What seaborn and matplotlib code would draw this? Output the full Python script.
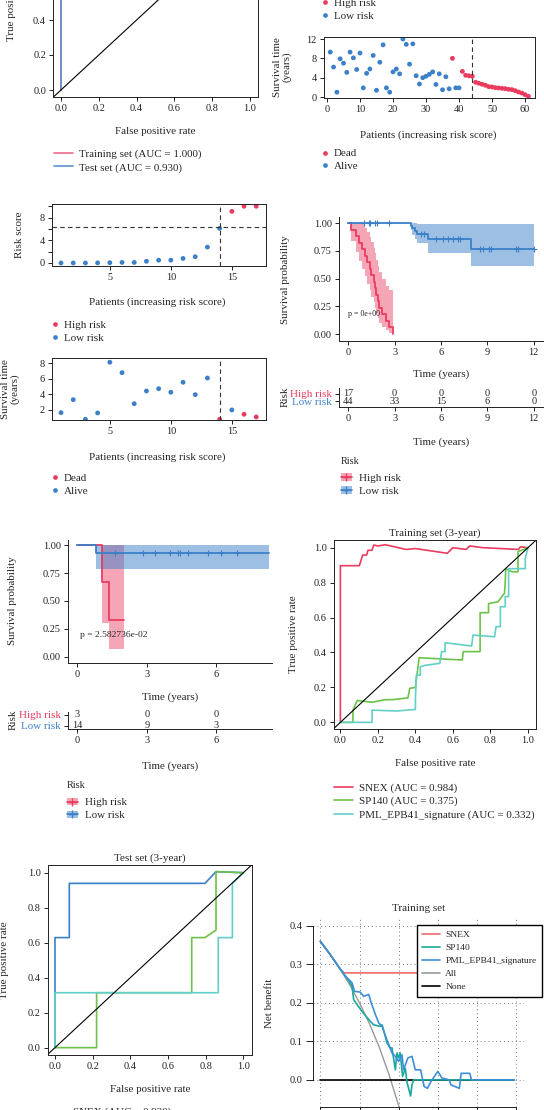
import numpy as np
import pandas as pd
import matplotlib
matplotlib.use("Agg")
import matplotlib.pyplot as plt
import seaborn as sns
from matplotlib.lines import Line2D
from matplotlib.patches import Patch

# ---------------- data ----------------
# training set: survival time of each patient, ordered by risk score
train_time = [9.3, 6.2, 1.0, 7.9, 7.0, 5.1, 9.3, 8.1, 5.7, 9.1,
              1.9, 4.9, 5.8, 8.6, 1.4, 7.2, 10.8, 1.9, 1.0, 5.2,
              5.8, 4.8, 12.0, 10.9, 6.8, 11.0, 4.4, 2.7, 4.0, 4.3,
              4.7, 5.2, 2.6, 4.8, 1.5, 4.2, 1.7, 8.0, 1.9, 1.9,
              5.3, 4.5, 4.4, 4.3, 3.06, 2.85, 2.64, 2.43, 2.15, 2.08,
              1.94, 1.88, 1.8, 1.74, 1.6, 1.53, 1.32, 1.04, 0.83, 0.49, 0.14]
train_dead = [38] + list(range(41, 62))
train_cut = 44

# test set
test_score = [0.0, 0.0, 0.0, 0.02, 0.05, 0.1, 0.1, 0.3, 0.5, 0.5,
              0.8, 1.1, 2.8, 6.1, 9.1, 10.0, 10.0]
test_time = [1.62, 3.3, 0.76, 1.58, 8.14, 6.79, 2.78, 4.42, 4.72, 4.26,
             5.55, 3.95, 6.1, 0.76, 1.97, 1.41, 1.06]
test_dead = [14, 16, 17]
test_cut = 14
test_score_cut = 6.35

# KM, training set
km_tr_high_t = [0, 0.17, 0.52, 0.72, 0.9, 1.07, 1.22, 1.39, 1.5, 1.65, 1.72,
                1.8, 1.95, 2.0, 2.2, 2.41, 2.63, 2.9]
km_tr_high_s = [1, 0.941, 0.882, 0.824, 0.765, 0.706, 0.647, 0.588, 0.529,
                0.471, 0.412, 0.353, 0.294, 0.235, 0.176, 0.118, 0.059, 0.0]
km_tr_high_lo = [1, 0.836, 0.741, 0.661, 0.587, 0.519, 0.455, 0.395, 0.338,
                 0.284, 0.233, 0.185, 0.141, 0.100, 0.063, 0.032, 0.009, 0.0]
km_tr_high_hi = [1, 1, 1, 1, 0.996, 0.959, 0.919, 0.875, 0.829,
                 0.779, 0.727, 0.671, 0.614, 0.555, 0.493, 0.433, 0.394, 0.394]
km_tr_low_t = [0, 4.05, 4.15, 4.3, 4.45, 5.15, 7.95, 12.0]
km_tr_low_s = [1, 0.977, 0.953, 0.929, 0.904, 0.853, 0.768, 0.768]
km_tr_low_lo = [1, 0.935, 0.89, 0.855, 0.82, 0.73, 0.61, 0.61]
km_tr_low_hi = [1, 1, 1, 1, 0.995, 0.994, 0.994, 0.994]
km_tr_cens_t = [1.0, 1.33, 1.4, 1.76, 1.87, 2.63, 4.7, 4.9, 5.67, 6.1, 6.43,
                6.76, 7.13, 7.24, 8.5, 8.7, 9.1, 9.26, 10.85, 11.0, 12.0]
km_tr_cens_s = [1, 1, 1, 1, 1, 1, 0.904, 0.904, 0.853, 0.853, 0.853,
                0.853, 0.853, 0.853, 0.768, 0.768, 0.768, 0.768, 0.768, 0.768, 0.768]
km_tr_times = [0, 3, 6, 9, 12]
km_tr_high_n = [17, 0, 0, 0, 0]
km_tr_low_n = [44, 33, 15, 6, 0]

# KM, test set
km_te_high_t = [0, 1.05, 1.38, 2.0]
km_te_high_s = [1, 0.667, 0.333, 0.333]
km_te_high_lo = [1, 0.30, 0.066, 0.066]
km_te_high_hi = [1, 1, 1, 1]
km_te_low_t = [0, 0.8, 8.25]
km_te_low_s = [1, 0.929, 0.929]
km_te_low_lo = [1, 0.787, 0.787]
km_te_low_hi = [1, 1, 1]
km_te_cens_t = [1.63, 2.82, 3.35, 4.0, 4.33, 4.43, 4.78, 5.62, 6.18, 6.91]
km_te_times = [0, 3, 6]
km_te_high_n = [3, 0, 0]
km_te_low_n = [14, 9, 3]

# ROC, training set (3-year)
roc_tr_snex_x = [0, 0, 0.101, 0.119, 0.14, 0.147, 0.168, 0.178, 0.2, 0.24, 0.35,
                 0.4, 0.57, 0.6, 0.67, 0.69, 0.76, 0.95, 0.96, 1.0]
roc_tr_snex_y = [0, 0.897, 0.897, 0.958, 0.958, 0.985, 0.985, 1.015, 1.01, 1.017,
                 0.99, 0.995, 0.968, 1.0, 0.99, 1.01, 1.0, 0.99, 1.005, 1.0]
roc_tr_sp_x = [0, 0.067, 0.067, 0.09, 0.17, 0.24, 0.28, 0.36, 0.37, 0.4, 0.42,
               0.65, 0.655, 0.745, 0.745, 0.79, 0.79, 0.84, 0.875, 0.879, 0.882,
               0.915, 0.947, 0.947, 1.0]
roc_tr_sp_y = [0, 0, 0.07, 0.125, 0.115, 0.13, 0.13, 0.14, 0.195, 0.2, 0.37,
               0.357, 0.405, 0.405, 0.628, 0.628, 0.68, 0.69, 0.739, 0.805, 0.88,
               0.862, 0.862, 0.977, 1.0]
roc_tr_pml_x = [0, 0.169, 0.169, 0.30, 0.4, 0.4, 0.405, 0.426, 0.426, 0.45, 0.53,
                0.54, 0.558, 0.558, 0.70, 0.707, 0.822, 0.83, 0.853, 0.853, 0.879,
                0.879, 0.897, 0.897, 0.986, 0.986, 1.0]
roc_tr_pml_y = [0, 0, 0.07, 0.065, 0.074, 0.134, 0.27, 0.27, 0.318, 0.326, 0.338,
                0.405, 0.405, 0.456, 0.437, 0.5, 0.49, 0.548, 0.548, 0.662, 0.662,
                0.72, 0.72, 0.88, 0.88, 0.94, 1.0]

# ROC, test set (3-year)
roc_te_snex_x = [0, 0, 0.076, 0.076, 0.796, 0.855, 1.0]
roc_te_snex_y = [0, 0.629, 0.629, 0.939, 0.939, 1.006, 1.0]
roc_te_sp_x = [0, 0.221, 0.221, 0.726, 0.726, 0.796, 0.855, 0.855, 1.0]
roc_te_sp_y = [0, 0, 0.314, 0.314, 0.629, 0.629, 0.672, 1.006, 1.0]
roc_te_pml_x = [0, 0, 0.867, 0.867, 0.942, 0.942, 1.0]
roc_te_pml_y = [0, 0.314, 0.314, 0.629, 0.629, 0.939, 1.0]

# overall ROC (top left, mostly cropped)
roc_all_tr_x = [0, 0, 1.0]
roc_all_tr_y = [0, 1.0, 1.0]
roc_all_te_x = [0, 0, 0.14, 0.14, 1.0]
roc_all_te_y = [0, 0.71, 0.71, 1.0, 1.0]

# decision curve, training set
dca_all_x = [0, 0.05, 0.1, 0.15, 0.2, 0.25, 0.3, 0.35, 0.4, 0.41]
dca_all_y = [0.36, 0.326, 0.289, 0.247, 0.2, 0.147, 0.086, 0.015, -0.067, -0.085]
dca_snex_x = [0, 0.05, 0.1, 0.12, 0.75]
dca_snex_y = [0.36, 0.326, 0.289, 0.278, 0.278]
dca_sp_x = [0, 0.05, 0.1, 0.14, 0.162, 0.17, 0.187, 0.213, 0.247, 0.272, 0.306,
            0.315, 0.323, 0.34, 0.357, 0.366, 0.383, 0.391, 0.4, 0.408, 0.42,
            0.434, 0.442, 0.461, 0.468, 0.476, 0.99]
dca_sp_y = [0.36, 0.326, 0.289, 0.262, 0.243, 0.209, 0.196, 0.178, 0.157, 0.143,
            0.139, 0.143, 0.13, 0.096, 0.083, 0.083, 0.026, 0.07, 0.057, 0.07,
            0.009, 0.03, -0.005, -0.042, -0.013, 0.0, 0.0]
dca_pml_x = [0, 0.05, 0.1, 0.13, 0.145, 0.162, 0.175, 0.204, 0.221, 0.247, 0.26,
             0.281, 0.298, 0.315, 0.34, 0.366, 0.383, 0.4, 0.417, 0.425, 0.447,
             0.468, 0.485, 0.512, 0.53, 0.547, 0.565, 0.6, 0.621, 0.658, 0.667,
             0.71, 0.719, 0.763, 0.772, 0.99]
dca_pml_y = [0.36, 0.326, 0.289, 0.268, 0.261, 0.252, 0.23, 0.228, 0.217, 0.222,
             0.2, 0.17, 0.148, 0.139, 0.104, 0.07, 0.061, 0.048, 0.065, 0.026,
             0.057, 0.061, 0.026, 0.026, -0.017, -0.022, -0.004, 0.022, 0.005, 0.0,
             -0.013, -0.022, 0.017, 0.017, 0.0, 0.0]
dca_none_x = [0, 0.99]
dca_none_y = [0, 0]

# ---------------- style ----------------
RED = "#ea3b5f"
BLUE = "#3b80c8"
GREEN = "#6cc24a"
CYAN = "#62cfc8"
FS = 7.9   # axis labels / legends
TS = 7.4   # tick labels
sns.set_style("ticks")
plt.rcParams["font.family"] = ["Liberation Serif", "DejaVu Serif"]
plt.rcParams.update({
    "font.size": FS,
    "axes.linewidth": 0.7,
    "axes.edgecolor": "#222222",
    "xtick.major.size": 3,
    "ytick.major.size": 3,
    "xtick.major.width": 0.7,
    "ytick.major.width": 0.7,
    "xtick.major.pad": 2.3,
    "ytick.major.pad": 2.3,
    "xtick.labelsize": TS,
    "ytick.labelsize": TS,
    "xtick.color": "#222222",
    "ytick.color": "#222222",
})

W, H = 544, 1110
fig = plt.figure(figsize=(W / 100, H / 100), dpi=100)


def box(l, t, r, b):
    return fig.add_axes([l / W, 1 - b / H, (r - l) / W, (b - t) / H])


def txt(x, y, s, **kw):
    kw.setdefault("ha", "center")
    kw.setdefault("va", "center")
    kw.setdefault("fontsize", FS)
    fig.text(x / W, 1 - y / H, s, **kw)


def leg(handles, labels, x, y1, y2, fs=FS, hl=1.7, htp=0.6, **kw):
    fig.legend(handles, labels, loc="center left",
               bbox_to_anchor=(x / W, 1 - (y1 + y2) / 2 / H), frameon=False,
               fontsize=fs, handlelength=hl, handletextpad=htp, borderpad=0,
               borderaxespad=0, labelspacing=0.3, **kw)


def dots(c):
    return Line2D([], [], ls="none", marker="o", ms=3.4, color=c, mew=0)


def line(x, y, c, ax, lw=1.2):
    sns.lineplot(x=x, y=y, sort=False, estimator=None, color=c, lw=lw, ax=ax)


def km(ax, t, s, lo, hi, c, alpha):
    ax.fill_between(t, lo, hi, step="post", color=c, alpha=alpha, lw=0)
    ax.step(t, s, where="post", color=c, lw=1.3)


# ---------------- overall ROC (top left) ----------------
ax = box(53.4, -92, 257.6, 97)
line(roc_all_tr_x, roc_all_tr_y, "#f06a8a", ax)
line(roc_all_te_x, roc_all_te_y, "#5b93d3", ax)
ax.axline((0, 0), slope=1, color="black", lw=0.8)
ax.set_xlim(-0.04, 1.04)
ax.set_ylim(-0.04, 1.04)
ax.set_xticks(np.arange(0, 1.01, 0.2))
ax.xaxis.set_major_formatter("{x:.1f}")
ax.set_yticks(np.arange(0, 1.01, 0.2))
# only the lower tick labels fall inside the cropped picture
ax.set_yticklabels(["0.0", "0.2", "0.4", "", "", ""])
txt(12, 2.5, "True positive rate", rotation=90)
txt(155, 131, "False positive rate")
leg([Line2D([], [], color="#f06a8a", lw=1.2), Line2D([], [], color="#5b93d3", lw=1.2)],
    ["Training set (AUC = 1.000)", "Test set (AUC = 0.930)"], 54, 154, 168)

# ---------------- training survival time (top right) ----------------
ax = box(324, 37, 535, 98)
df = pd.DataFrame({"patient": np.arange(1, len(train_time) + 1), "time": train_time})
df["status"] = np.where(df["patient"].isin(train_dead), "Dead", "Alive")
sns.scatterplot(data=df, x="patient", y="time", hue="status",
                palette={"Dead": RED, "Alive": BLUE}, s=12, linewidth=0,
                legend=False, ax=ax)
ax.axvline(train_cut, color="#333333", ls=(0, (4, 3)), lw=0.8)
ax.set_xlim(-0.9, 63.0)
ax.set_ylim(-0.2, 12.42)
ax.set_xticks(range(0, 61, 10))
ax.set_yticks([0, 4, 8, 12])
ax.set_xlabel("")
ax.set_ylabel("")
txt(282, 67, "Survival time\n(years)", rotation=90, linespacing=1.05)
txt(428, 135, "Patients (increasing risk score)")
leg([dots(RED), dots(BLUE)], ["High risk", "Low risk"], 321, 3, 16, hl=0.8, htp=0.4)
leg([dots(RED), dots(BLUE)], ["Dead", "Alive"], 321, 153, 167, hl=0.8, htp=0.4)

# ---------------- test risk score ----------------
ax = box(52, 204, 266, 266)
df = pd.DataFrame({"patient": np.arange(1, len(test_score) + 1), "score": test_score})
df["risk"] = np.where(df["patient"] > test_cut, "High", "Low")
sns.scatterplot(data=df, x="patient", y="score", hue="risk",
                palette={"High": RED, "Low": BLUE}, s=12, linewidth=0,
                legend=False, ax=ax)
ax.axvline(test_cut, color="#333333", ls=(0, (4, 3)), lw=0.8)
ax.axhline(test_score_cut, color="#333333", ls=(0, (4, 3)), lw=0.8)
ax.set_xlim(0.26, 17.8)
ax.set_ylim(-0.53, 10.4)
ax.set_xticks([5, 10, 15])
ax.set_yticks([0, 2, 4, 6, 8, 10])
ax.set_yticklabels(["0", "", "4", "", "8", ""])
ax.set_xlabel("")
ax.set_ylabel("")
txt(19, 235, "Risk score", rotation=90)
txt(157, 302, "Patients (increasing risk score)")
leg([dots(RED), dots(BLUE)], ["High risk", "Low risk"], 51, 324, 339, hl=0.8, htp=0.4)

# ---------------- test survival time ----------------
ax = box(52, 358, 266, 420)
df = pd.DataFrame({"patient": np.arange(1, len(test_time) + 1), "time": test_time})
df["status"] = np.where(df["patient"].isin(test_dead), "Dead", "Alive")
sns.scatterplot(data=df, x="patient", y="time", hue="status",
                palette={"Dead": RED, "Alive": BLUE}, s=12, linewidth=0,
                legend=False, ax=ax)
ax.axvline(test_cut, color="#333333", ls=(0, (4, 3)), lw=0.8)
ax.set_xlim(0.26, 17.8)
ax.set_ylim(0.67, 8.69)
ax.set_xticks([5, 10, 15])
ax.set_yticks([2, 4, 6, 8])
ax.set_xlabel("")
ax.set_ylabel("")
txt(10, 389, "Survival time\n(years)", rotation=90, linespacing=1.05)
txt(157, 457, "Patients (increasing risk score)")
leg([dots(RED), dots(BLUE)], ["Dead", "Alive"], 51, 477, 492, hl=0.8, htp=0.4)


# ---------------- KM helpers ----------------
def km_axes(ax, xmax, ticks):
    sns.despine(ax=ax)
    ax.set_xlim(-0.05 * xmax, 1.05 * xmax)
    ax.set_xticks(ticks)


def risk_table(ax, times, high_n, low_n, xmax):
    sns.despine(ax=ax)
    for t, h, l in zip(times, high_n, low_n):
        ax.text(t, 1, str(h), ha="center", va="center", fontsize=TS)
        ax.text(t, 0, str(l), ha="center", va="center", fontsize=TS)
    ax.set_xlim(-0.05 * xmax, 1.05 * xmax)
    ax.set_xticks(times)
    ax.set_yticks([1, 0])
    ax.set_yticklabels(["High risk", "Low risk"])
    for lab, c in zip(ax.get_yticklabels(), [RED, BLUE]):
        lab.set_color(c)
        lab.set_fontsize(FS)


def km_legend(x, y_title, y1, y2):
    hs = [(Patch(fc=RED, alpha=0.45, lw=0), Line2D([], [], color=RED, marker="+", ms=6, lw=1.2)),
          (Patch(fc=BLUE, alpha=0.5, lw=0), Line2D([], [], color=BLUE, marker="+", ms=6, lw=1.2))]
    txt(x, y_title, "Risk", ha="left", fontsize=TS)
    leg(hs, ["High risk", "Low risk"], x, y1, y2, hl=1.0, htp=0.6)


# ---------------- KM training ----------------
ax = box(339, 217.5, 543, 341)
km(ax, km_tr_high_t, km_tr_high_s, km_tr_high_lo, km_tr_high_hi, RED, 0.45)
km(ax, km_tr_low_t, km_tr_low_s, km_tr_low_lo, km_tr_low_hi, BLUE, 0.5)
sns.scatterplot(x=km_tr_cens_t, y=km_tr_cens_s, marker="+", s=14, color=BLUE,
                linewidth=0.8, ax=ax)
km_axes(ax, 12, km_tr_times)
ax.set_ylim(-0.063, 1.05)
ax.set_yticks([0, 0.25, 0.5, 0.75, 1.0])
ax.yaxis.set_major_formatter("{x:.2f}")
ax.text(0.0, 0.18, "p = 0e+00", fontsize=5.8, va="center")
txt(285, 280, "Survival probability", rotation=90)
txt(441, 374, "Time (years)")

ax = box(339, 388, 543, 407)
risk_table(ax, km_tr_times, km_tr_high_n, km_tr_low_n, 12)
ax.set_ylim(-0.857, 1.857)
txt(285, 397, "Risk", rotation=90)
txt(441, 442, "Time (years)")
km_legend(341, 462, 477, 492)

# ---------------- KM test ----------------
ax = box(68, 539.7, 272, 663)
km(ax, km_te_high_t, km_te_high_s, km_te_high_lo, km_te_high_hi, RED, 0.45)
km(ax, km_te_low_t, km_te_low_s, km_te_low_lo, km_te_low_hi, BLUE, 0.5)
sns.scatterplot(x=km_te_cens_t, y=[km_te_low_s[-1]] * len(km_te_cens_t), marker="+",
                s=14, color=BLUE, linewidth=0.8, ax=ax)
km_axes(ax, 8, km_te_times)
ax.set_ylim(-0.057, 1.05)
ax.set_yticks([0, 0.25, 0.5, 0.75, 1.0])
ax.yaxis.set_major_formatter("{x:.2f}")
ax.text(0.12, 0.195, "p = 2.582736e-02", fontsize=6.8, va="center")
txt(13, 601, "Survival probability", rotation=90)
txt(170, 697, "Time (years)")

ax = box(68, 712, 272, 729)
risk_table(ax, km_te_times, km_te_high_n, km_te_low_n, 8)
ax.set_ylim(-0.31, 1.28)
txt(13, 720, "Risk", rotation=90)
txt(170, 766, "Time (years)")
km_legend(67, 786, 802, 816)


# ---------------- ROC 3-year ----------------
def roc_axes(ax, title, xl, yl):
    ax.axline((0, 0), slope=1, color="black", lw=0.8)
    ax.set_xlim(*xl)
    ax.set_ylim(*yl)
    ax.set_xticks(np.arange(0, 1.01, 0.2))
    ax.set_yticks(np.arange(0, 1.01, 0.2))
    ax.xaxis.set_major_formatter("{x:.1f}")
    ax.yaxis.set_major_formatter("{x:.1f}")
    ax.set_title(title, fontsize=8.0, pad=3)


roc_labels = ["SNEX (AUC = 0.984)", "SP140 (AUC = 0.375)", "PML_EPB41_signature (AUC = 0.332)"]
ax = box(334, 540, 536, 729)
line(roc_tr_snex_x, roc_tr_snex_y, RED, ax)
line(roc_tr_sp_x, roc_tr_sp_y, GREEN, ax)
line(roc_tr_pml_x, roc_tr_pml_y, CYAN, ax)
roc_axes(ax, "Training set (3-year)", (-0.034, 1.043), (-0.038, 1.044))
txt(293, 634, "True positive rate", rotation=90)
txt(435, 764, "False positive rate")
leg([Line2D([], [], color=c, lw=1.2) for c in [RED, GREEN, CYAN]], roc_labels,
    334, 787, 816)

ax = box(48, 865, 252, 1055)
line(roc_te_snex_x, roc_te_snex_y, BLUE, ax)
line(roc_te_sp_x, roc_te_sp_y, GREEN, ax)
line(roc_te_pml_x, roc_te_pml_y, CYAN, ax)
roc_axes(ax, "Test set (3-year)", (-0.037, 1.046), (-0.042, 1.044))
txt(5, 960, "True positive rate", rotation=90)
txt(150, 1090, "False positive rate")
# legend of this panel is cut by the bottom edge; only its first row shows
leg([Line2D([], [], color=BLUE, lw=1.2)], ["SNEX (AUC = 0.930)"], 48, 1112, 1112)

# ---------------- decision curve ----------------
ax = box(312.5, 919, 524, 1107)
line(dca_all_x, dca_all_y, "#999999", ax, lw=1.0)
line(dca_none_x, dca_none_y, "black", ax, lw=1.2)
line(dca_snex_x, dca_snex_y, "#f26a6a", ax)
line(dca_sp_x, dca_sp_y, "#1aa89c", ax)
line(dca_pml_x, dca_pml_y, "#3f8fd8", ax)
ax.set_xlim(-0.04, 1.04)
ax.set_ylim(-0.0705, 0.418)
ax.set_xticks(np.arange(0, 1.01, 0.2))
ax.set_xticklabels([])
ax.set_yticks([0, 0.1, 0.2, 0.3, 0.4])
ax.yaxis.set_major_formatter("{x:.1f}")
for s in ["top", "right"]:
    ax.spines[s].set_visible(False)
ax.spines["left"].set_bounds(0, 0.4)
ax.spines["bottom"].set_bounds(0, 1)
ax.tick_params(length=5)
ax.grid(True, ls=(0, (1, 3)), color="#777777", lw=0.7)
ax.set_title("Training set", fontsize=8.0, pad=6)
txt(270, 1003, "Net benefit", rotation=90)
dca_handles = [Line2D([], [], color=c, lw=1.2)
               for c in ["#f26a6a", "#1aa89c", "#3f8fd8", "#999999", "black"]]
ax.legend(dca_handles, ["SNEX", "SP140", "PML_EPB41_signature", "All", "None"],
          loc="upper left", bbox_to_anchor=(417 / W, 1 - 925 / H),
          bbox_transform=fig.transFigure, fontsize=6.8, handlelength=1.85,
          handletextpad=0.6, labelspacing=0.48, borderpad=0.55, borderaxespad=0,
          fancybox=False, edgecolor="black", framealpha=1)

fig.savefig("out.png", dpi=100)
